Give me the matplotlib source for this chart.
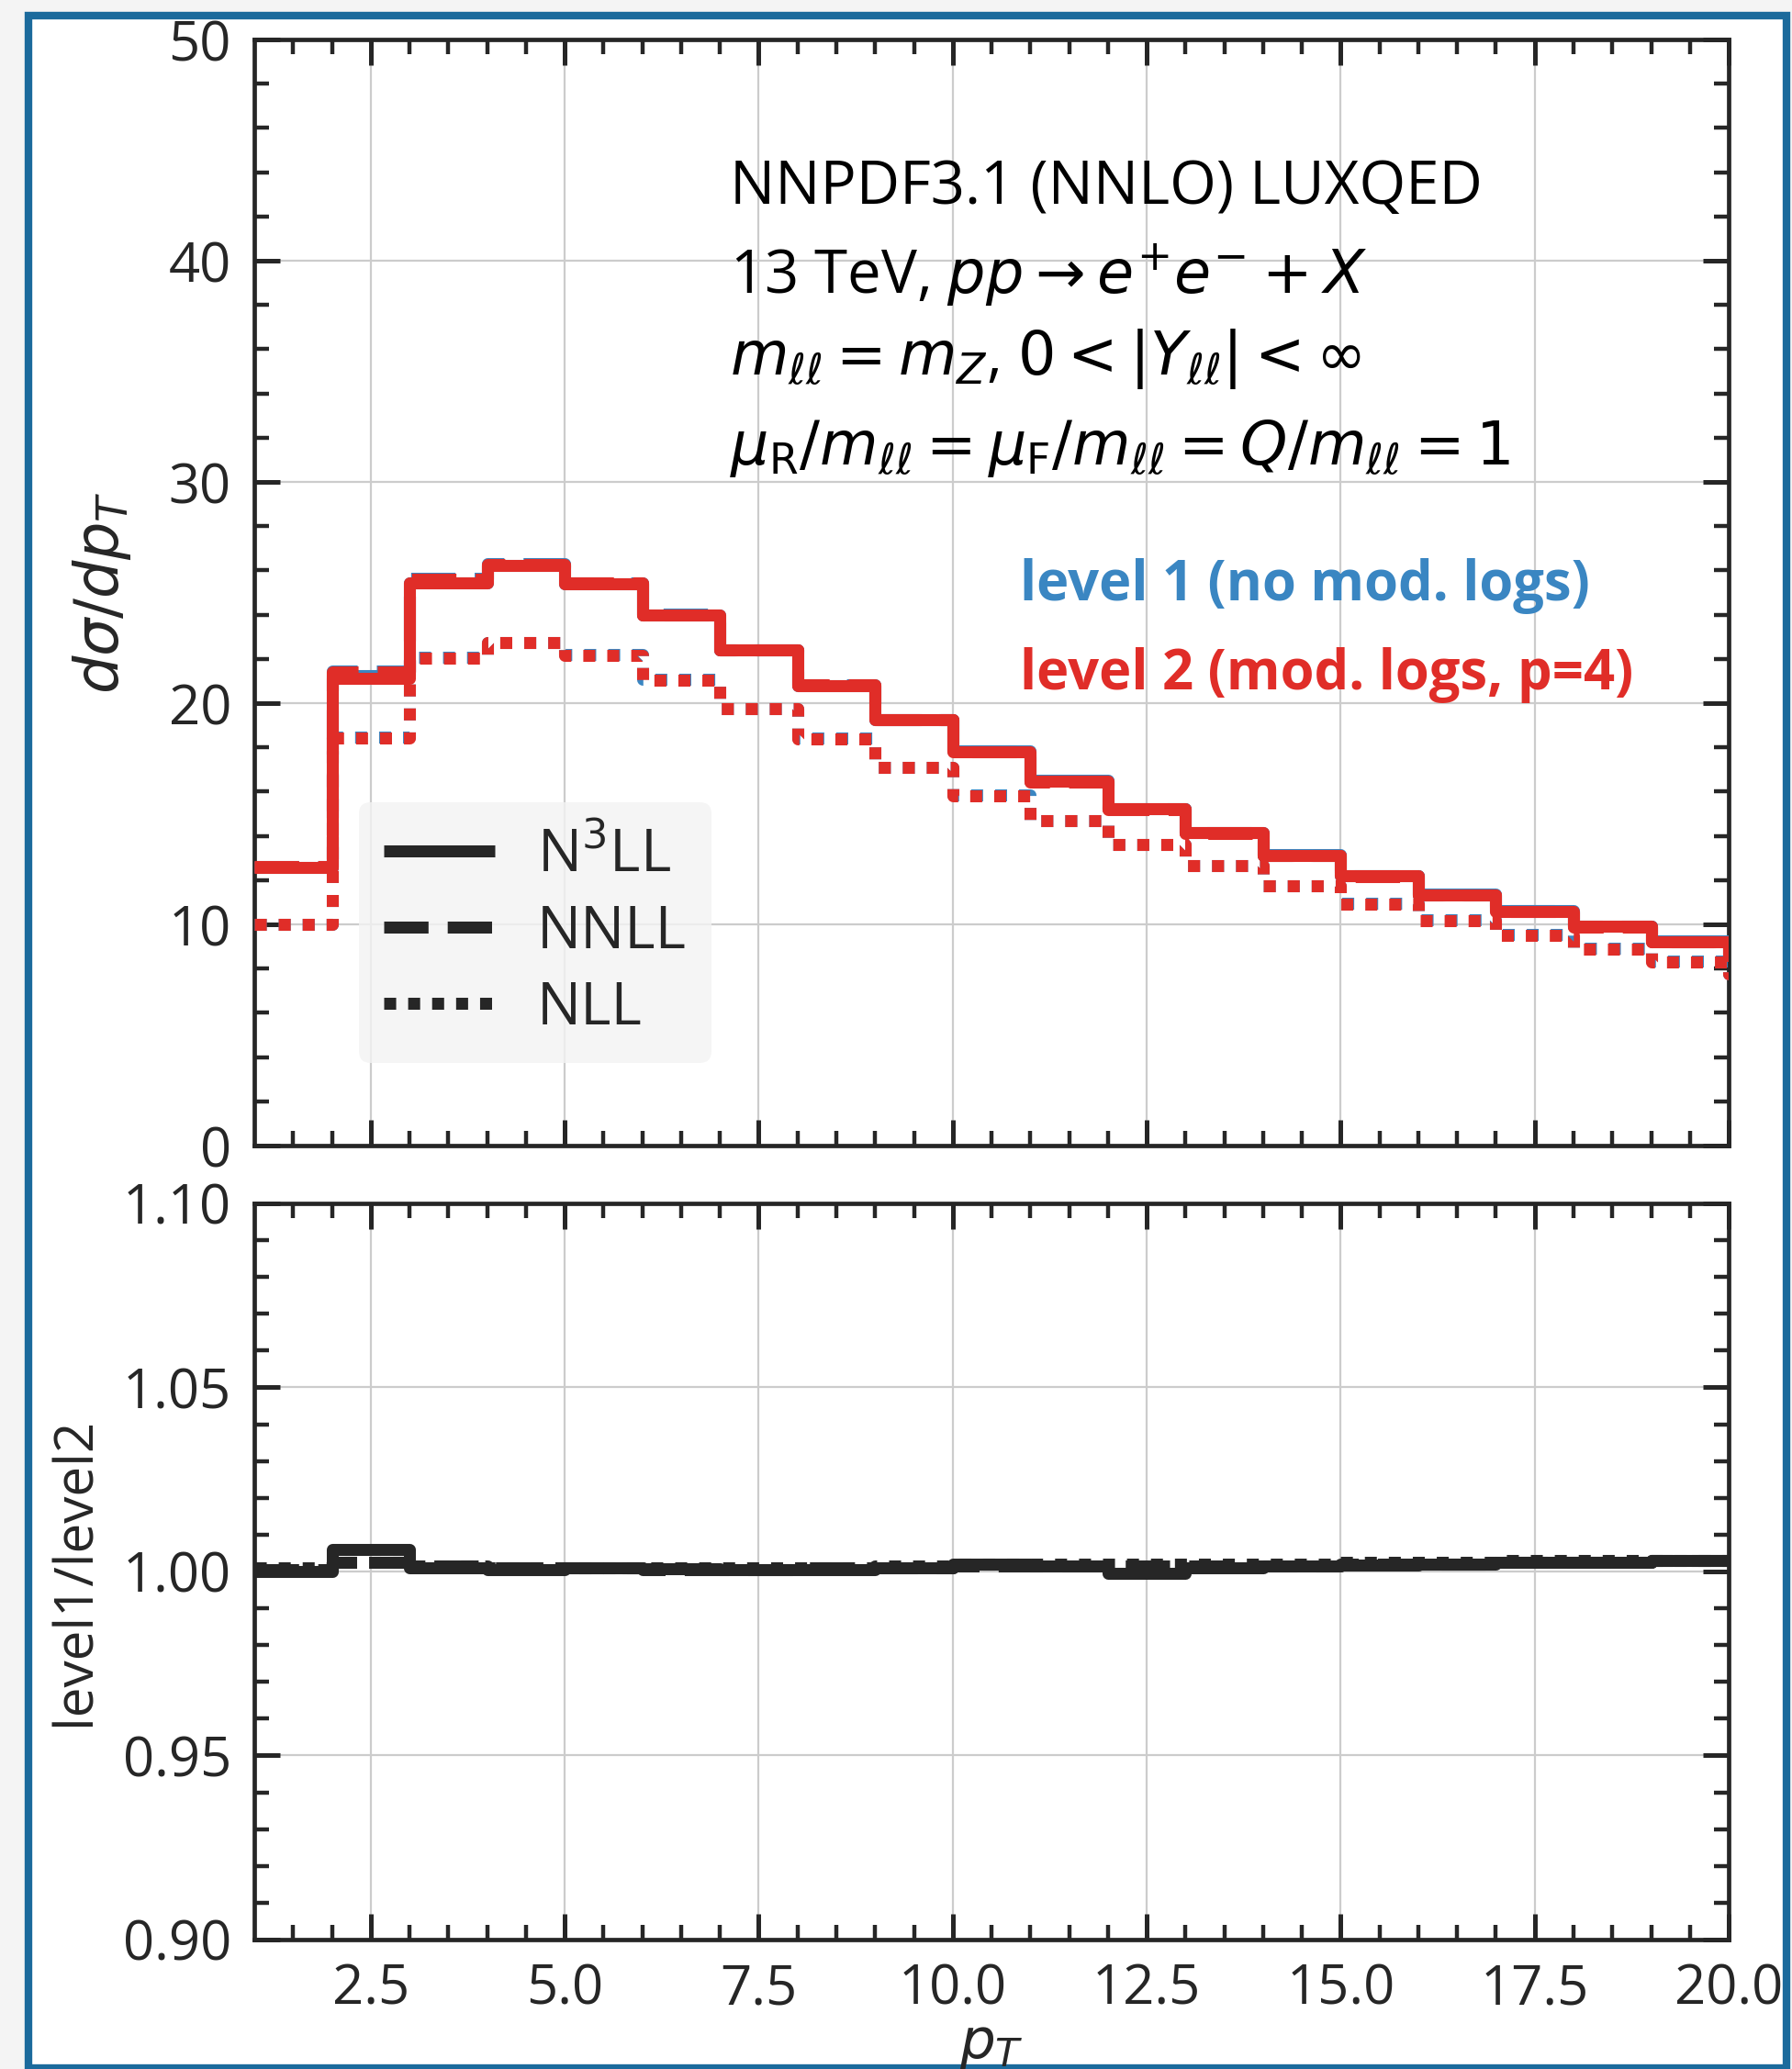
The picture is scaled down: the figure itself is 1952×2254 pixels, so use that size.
import numpy as np
import matplotlib
matplotlib.use("Agg")
import matplotlib.pyplot as plt
from matplotlib.patches import Rectangle

# ---------------- data ----------------
edges = [1, 2, 3, 4, 5, 6, 7, 8, 9, 10, 11, 12, 13, 14, 15, 16, 17, 18, 19, 20, 21]

# level 2 (mod. logs, p=4) cross sections
n3ll_lvl2 = [12.58, 21.12, 25.43, 26.22, 25.38, 23.98, 22.39, 20.80, 19.25, 17.82,
             16.49, 15.24, 14.15, 13.12, 12.20, 11.35, 10.60, 9.90, 9.22, 8.60]
nnll_lvl2 = [12.62, 21.40, 25.60, 26.28, 25.42, 24.00, 22.40, 20.82, 19.24, 17.80,
             16.45, 15.20, 14.12, 13.10, 12.18, 11.32, 10.58, 9.88, 9.20, 8.58]
nll_lvl2 = [10.01, 18.41, 22.03, 22.72, 22.17, 21.05, 19.74, 18.40, 17.08, 15.83,
            14.68, 13.60, 12.64, 11.73, 10.93, 10.18, 9.51, 8.88, 8.30, 7.75]

# level1 / level2 ratios
ratio_n3ll = [1.0000, 1.0060, 1.0010, 1.0005, 1.0010, 1.0008, 1.0005, 1.0005, 1.0010, 1.0020,
              1.0015, 0.9995, 1.0010, 1.0015, 1.0017, 1.0020, 1.0025, 1.0025, 1.0030, 1.0030]
ratio_nnll = [1.0005, 1.0025, 1.0015, 1.0010, 1.0010, 1.0005, 1.0005, 1.0010, 1.0010, 1.0015,
              1.0015, 1.0015, 1.0015, 1.0015, 1.0020, 1.0020, 1.0025, 1.0025, 1.0030, 1.0030]
ratio_nll = [1.0010, 1.0025, 1.0015, 1.0010, 1.0010, 1.0010, 1.0010, 1.0010, 1.0015, 1.0020,
             1.0020, 1.0020, 1.0020, 1.0020, 1.0025, 1.0025, 1.0030, 1.0030, 1.0030, 1.0030]

orders = ["N$^3$LL", "NNLL", "NLL"]
xticks = [2.5, 5.0, 7.5, 10.0, 12.5, 15.0, 17.5, 20.0]
yticks_top = [0, 10, 20, 30, 40, 50]
yticks_bot = [0.90, 0.95, 1.00, 1.05, 1.10]

text_lines = [
    "NNPDF3.1 (NNLO) LUXQED",
    r"13 TeV, $pp \to e^{+}e^{-} + X$",
    r"$m_{\ell\ell} = m_Z$, $0 < |Y_{\ell\ell}| < \infty$",
    r"$\mu_{\rm R}/m_{\ell\ell} = \mu_{\rm F}/m_{\ell\ell} = Q/m_{\ell\ell} = 1$",
]

# ---------------- style ----------------
plt.rcParams["font.family"] = ["Open Sans", "DejaVu Sans"]
plt.rcParams["mathtext.fontset"] = "dejavusans"
plt.rcParams["lines.solid_joinstyle"] = "round"
plt.rcParams["lines.solid_capstyle"] = "round"

DARK = "#262626"
BLUE = "#3a86c2"
RED = "#e02d28"
FS_TICK = 21.5

fig = plt.figure(figsize=(9.76, 11.27), dpi=200, facecolor="#f4f4f4")
frame = Rectangle((0.0159, 0.0006), 0.981, 0.9918, transform=fig.transFigure,
                  facecolor="white", edgecolor="#1b6a9c", lw=3.0, zorder=-10)
fig.patches.append(frame)

ax1 = fig.add_axes([0.1419, 0.4463, 0.8228, 0.5346])
ax2 = fig.add_axes([0.1419, 0.0626, 0.8228, 0.3558], sharex=ax1)

styles = ["-", (0, (3.7, 1.6)), (0, (1, 1))]
LW = 4.7

level2 = [n3ll_lvl2, nnll_lvl2, nll_lvl2]
ratios = [ratio_n3ll, ratio_nnll, ratio_nll]

for k in range(3):
    l2 = np.array(level2[k])
    l1 = l2 * np.array(ratios[k])
    ax1.stairs(l1, edges, baseline=None, color=BLUE, lw=LW, linestyle=styles[k],
               zorder=3, joinstyle="round")
for k in range(3):
    l2 = np.array(level2[k])
    ax1.stairs(l2, edges, baseline=None, color=RED, lw=LW, linestyle=styles[k],
               zorder=4, joinstyle="round")
for k in range(3):
    l2 = np.array(level2[k])
    l1 = l2 * np.array(ratios[k])
    ax2.stairs(l1 / l2, edges, baseline=None, color=DARK, lw=LW, linestyle=styles[k],
               zorder=3, joinstyle="round")

# legend (black proxies)
handles = [plt.Line2D([], [], color=DARK, lw=LW, linestyle=styles[k],
                      dash_capstyle="butt", solid_capstyle="butt") for k in range(3)]
leg = ax1.legend(handles, orders, loc="lower left", bbox_to_anchor=(0.071, 0.075),
                 borderaxespad=0, fontsize=23, frameon=True, fancybox=True,
                 facecolor="#f3f3f3", edgecolor="none", framealpha=0.8,
                 handlelength=1.9, handletextpad=0.72, labelspacing=0.3,
                 borderpad=0.42)
for t in leg.get_texts():
    t.set_color(DARK)

for i, s in enumerate(text_lines):
    ax1.text(0.3225, [0.866, 0.787, 0.711, 0.630][i], s, transform=ax1.transAxes,
             fontsize=23.5, color="black", va="center", ha="left", zorder=6)
ax1.text(0.519, 0.506, "level 1 (no mod. logs)", transform=ax1.transAxes,
         fontsize=21.5, color=BLUE, fontweight="bold", va="center", ha="left")
ax1.text(0.519, 0.425, "level 2 (mod. logs, p=4)", transform=ax1.transAxes,
         fontsize=21.5, color=RED, fontweight="bold", va="center", ha="left")

for ax in (ax1, ax2):
    ax.set_xlim(1, 20)
    ax.set_xticks(xticks)
    ax.set_xticks(np.arange(1.5, 20.0, 0.5), minor=True)
    ax.grid(True, which="major", color="#cccccc", lw=0.8, zorder=0)
    ax.set_axisbelow(True)
    ax.tick_params(which="both", direction="in", top=True, right=True, colors=DARK,
                   labelsize=FS_TICK, pad=9)
    ax.tick_params(which="major", length=10, width=1.8)
    ax.tick_params(which="minor", length=5.8, width=1.6)
    for sp in ax.spines.values():
        sp.set_color(DARK)
        sp.set_linewidth(1.7)

ax1.set_ylim(0, 50)
ax1.set_yticks(yticks_top)
ax1.set_yticklabels([str(v) for v in yticks_top])
ax1.set_yticks(np.arange(2, 50, 2), minor=True)
ax1.tick_params(labelbottom=False)
ax1.set_ylabel(r"$d\sigma/dp_T$", fontsize=23.5, color=DARK, labelpad=14)

ax2.set_ylim(0.90, 1.10)
ax2.set_yticks(yticks_bot)
ax2.set_yticklabels(["%.2f" % v for v in yticks_bot])
ax2.set_yticks(np.arange(0.91, 1.10, 0.01), minor=True)
ax2.set_xticklabels(["%.1f" % v for v in xticks])
ax2.set_ylabel("level1/level2", fontsize=21, color=DARK, labelpad=8)
ax2.set_xlabel(r"$p_T$", fontsize=22, color=DARK)
ax2.xaxis.set_label_coords(0.5, -0.142)
ax2.xaxis.label.set_va("center")

fig.savefig("out.png", dpi=200, facecolor=fig.get_facecolor())
